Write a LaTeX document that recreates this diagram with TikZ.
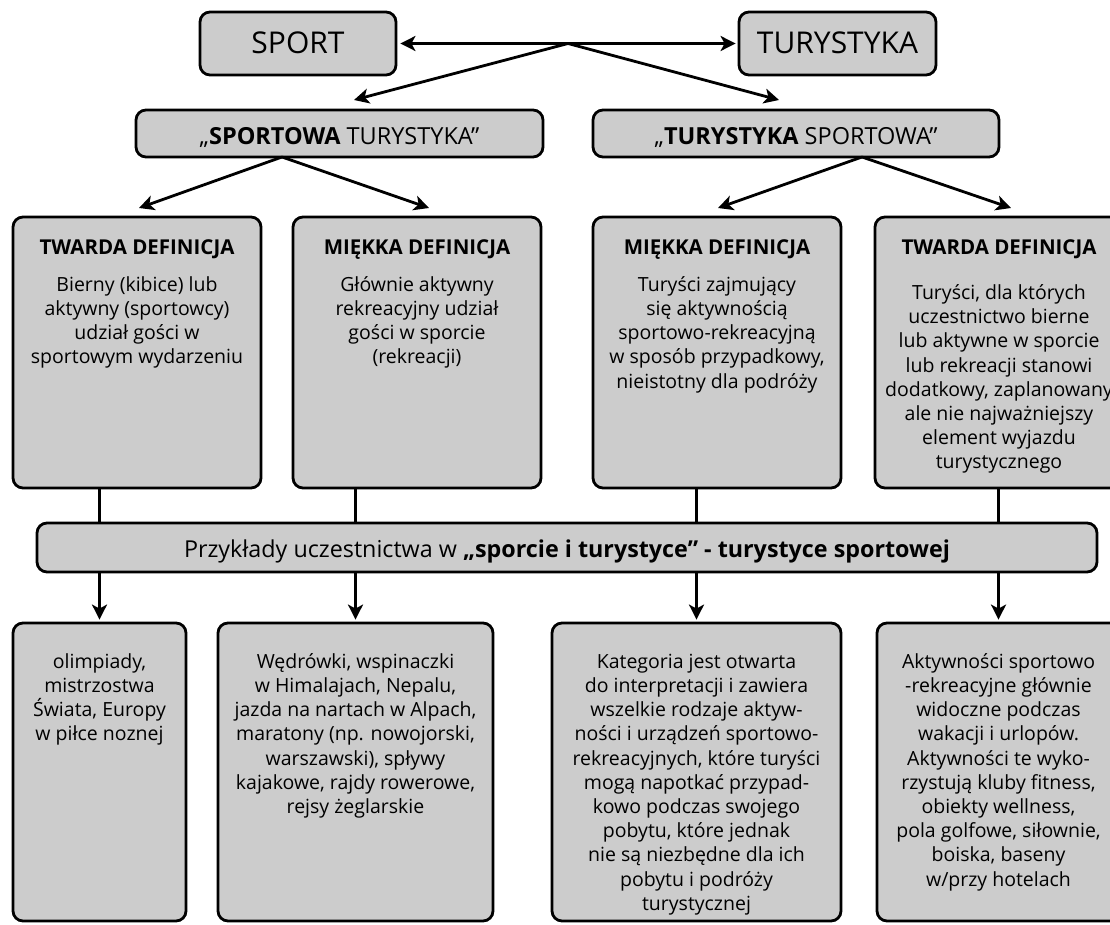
\documentclass[tikz,border=0pt]{standalone}
\usepackage{fontspec}
\setmainfont{Open Sans}
\usetikzlibrary{arrows.meta}

\begin{document}
\begin{tikzpicture}[x=1pt,y=-1pt,line width=2.8pt,
  box/.style={draw,fill=black!20,rounded corners=10pt,inner sep=0pt},
  txt/.style={align=center,inner sep=0pt,anchor=north,font=\fontsize{19.5}{24.2}\selectfont},
  head/.style={font=\fontsize{30}{36}\selectfont,text height=21pt,text depth=0pt},
  sub/.style={font=\fontsize{23.5}{28}\selectfont,text height=22pt,text depth=0pt},
  link/.style={-{Stealth[length=15pt,width=15pt,inset=4pt]}}]
  \useasboundingbox (0,0) rectangle (1110,925);
  \clip (0,0) rectangle (1110,925);

  % top row
  \node[box,head,minimum width=196pt,minimum height=63pt] (sport) at (298,43.5) {SPORT};
  \node[box,head,minimum width=197pt,minimum height=63pt] (tur) at (837.5,43.5) {TURYSTYKA};
  \draw[{Stealth[length=15pt,width=15pt,inset=4pt]}-{Stealth[length=15pt,width=15pt,inset=4pt]},
    shorten <=3pt,shorten >=2pt] (sport) -- (tur);
  \coordinate (fork) at (568,43.5);
  \coordinate (stin) at (354,100);
  \coordinate (tsin) at (779,100);
  \draw[link] (fork) -- (stin);
  \draw[link] (fork) -- (tsin);

  % second row
  \node[box,sub,minimum width=407pt,minimum height=47pt] (st) at (339.5,133.5)
    {„\textbf{SPORTOWA} TURYSTYKA”};
  \node[box,sub,minimum width=406pt,minimum height=47pt] (ts) at (796,133.5)
    {„\textbf{TURYSTYKA} SPORTOWA”};
  \coordinate (stout) at (282,157);
  \coordinate (tsout) at (862,157);
  \coordinate (d1in) at (139,208);
  \coordinate (d2in) at (429,208);
  \coordinate (d3in) at (718,208);
  \coordinate (d4in) at (1011,208);
  \draw[link] (stout) -- (d1in);
  \draw[link] (stout) -- (d2in);
  \draw[link] (tsout) -- (d3in);
  \draw[link] (tsout) -- (d4in);

  % definitions
  \node[box,minimum width=248pt,minimum height=271pt] (d1) at (137,352.5) {};
  \node[box,minimum width=248pt,minimum height=271pt] (d2) at (417,352.5) {};
  \node[box,minimum width=248pt,minimum height=271pt] (d3) at (717,352.5) {};
  \node[box,minimum width=248pt,minimum height=271pt] (d4) at (999,352.5) {};
  \node[txt] (d1t) at (137,236) {{\bfseries\fontsize{20.5}{24.2}\selectfont\strut TWARDA DEFINICJA}\\[12.8pt]
    Bierny (kibice) lub\\aktywny (sportowcy)\\udział gości w\\sportowym wydarzeniu};
  \node[txt] (d2t) at (417,236) {{\bfseries\fontsize{20.5}{24.2}\selectfont\strut MIĘKKA DEFINICJA}\\[12.8pt]
    Głównie aktywny\\rekreacyjny udział\\gości w sporcie\\(rekreacji)};
  \node[txt] (d3t) at (717,236) {{\bfseries\fontsize{20.5}{24.2}\selectfont\strut MIĘKKA DEFINICJA}\\[12.8pt]
    Turyści zajmujący\\się aktywnością\\sportowo-rekreacyjną\\w sposób przypadkowy,\\nieistotny dla podróży};
  \node[txt] (d4t) at (999,236) {{\bfseries\fontsize{20.5}{24.2}\selectfont\strut TWARDA DEFINICJA}\\[21pt]
    Turyści, dla których\\uczestnictwo bierne\\lub aktywne w sporcie\\lub rekreacji stanowi\\dodatkowy, zaplanowany\\ale nie najważniejszy\\element wyjazdu\\turystycznego};

  % examples bar
  \node[box,minimum width=1060pt,minimum height=49pt,font=\fontsize{23.3}{28}\selectfont,
    text height=20pt,text depth=0pt] (bar) at (567,547.5)
    {Przykłady uczestnictwa w \textbf{„sporcie i turystyce” - turystyce sportowej}};

  % examples
  \node[box,minimum width=173pt,minimum height=298pt] (e1) at (99.5,772) {};
  \node[box,minimum width=275pt,minimum height=298pt] (e2) at (355.5,772) {};
  \node[box,minimum width=289pt,minimum height=298pt] (e3) at (696.5,772) {};
  \node[box,minimum width=243pt,minimum height=298pt] (e4) at (998.5,772) {};
  \node[txt] (e1t) at (99.5,650) {\strut olimpiady,\\mistrzostwa\\Świata, Europy\\w piłce noznej};
  \node[txt] (e2t) at (355.5,650) {\strut Wędrówki, wspinaczki\\w Himalajach, Nepalu,\\jazda na nartach w Alpach,\\maratony (np. nowojorski,\\warszawski), spływy\\kajakowe, rajdy rowerowe,\\rejsy żeglarskie};
  \node[txt] (e3t) at (696.5,650) {\strut Kategoria jest otwarta\\do interpretacji i zawiera\\wszelkie rodzaje aktyw-\\ności i urządzeń sportowo-\\rekreacyjnych, które turyści\\mogą napotkać przypad-\\kowo podczas swojego\\pobytu, które jednak\\nie są niezbędne dla ich\\pobytu i podróży\\turystycznej};
  \node[txt] (e4t) at (998.5,650) {\strut Aktywności sportowo\\-rekreacyjne głównie\\widoczne podczas\\wakacji i urlopów.\\Aktywności te wyko-\\rzystują kluby fitness,\\obiekty wellness,\\pola golfowe, siłownie,\\boiska, baseny\\w/przy hotelach};

  % connectors
  \foreach \d/\e in {d1/e1,d2/e2,d3/e3,d4/e4}{
    \draw (\d.south -| \e.north) -- (bar.north -| \e.north);
    \draw[link,shorten >=2pt] (bar.south -| \e.north) -- (\e.north);
  }
\end{tikzpicture}
\end{document}
